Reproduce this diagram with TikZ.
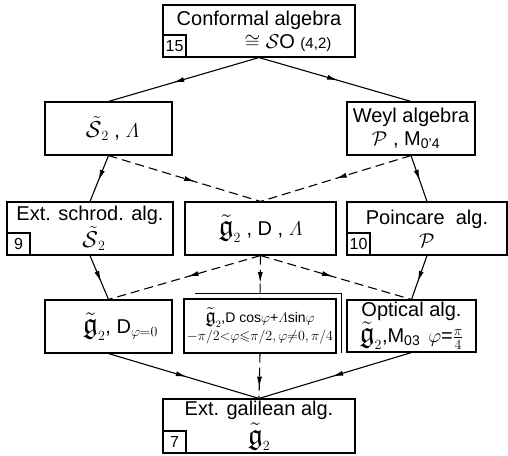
\documentclass[tikz,border=0pt]{standalone}
\usepackage{fix-cm}
\usepackage{amsmath, amssymb}
\usepackage{fontspec}
\setmainfont{Liberation Sans}
\usetikzlibrary{arrows.meta, decorations.markings}

\newcommand{\galg}{\mathord{\scalebox{1.5}{$\tilde{\mathfrak{g}}$}}}
\newcommand{\salg}{\mathord{\scalebox{1.15}{$\tilde{\mathcal{S}}$}}}

\tikzset{
    algbox/.style={draw, line width=1.1pt, inner sep=2pt, align=center, font=\fontsize{20}{23}\selectfont},
    numtag/.style={draw, line width=1.1pt, anchor=south west, minimum width=23pt, minimum height=22pt, inner sep=0pt, font=\fontsize{16}{16}\selectfont},
    conn/.style={line width=1.1pt, postaction={decorate}, decoration={markings, mark=at position #1 with {\arrow{Latex[length=11pt,width=5pt]}}}},
    conn/.default=0.55,
    dconn/.style={conn=#1, dash pattern=on 9pt off 5pt},
    dconn/.default=0.55
}

\begin{document}
\begin{tikzpicture}[x=1pt, y=-1pt]
    \useasboundingbox (0,0) rectangle (508,455);

    % Draw nodes
    \node[algbox, minimum width=192pt, minimum height=52pt] (conf) at (259,31) {Conformal algebra\\ \hspace*{58pt}$\cong\mathcal{S}$O {\fontsize{15}{15}\selectfont(4,2)}};
    \node[algbox, minimum width=127pt, minimum height=53pt] (s2l) at (108.5,128.5) {\hspace*{8pt}$\salg_2$ , $\varLambda$};
    \node[algbox, minimum width=128pt, minimum height=53pt] (weyl) at (411,128.5) {Weyl algebra\\ $\mathcal{P}$ , M$_{\text{0'4}}$\hspace*{10pt}};
    \node[algbox, minimum width=166pt, minimum height=53pt] (schrod) at (90,228.5) {Ext. schrod. alg.\\[1pt] \hspace*{8pt}$\salg_2$};
    \node[algbox, minimum width=151pt, minimum height=53pt] (gdl) at (260.5,228.5) {$\galg_2$ , D , $\varLambda$};
    \node[algbox, minimum width=160pt, minimum height=53pt] (poin) at (427,228.5) {Poincare\ \ alg.\\ $\mathcal{P}$};
    \node[algbox, minimum width=127pt, minimum height=53pt] (gd0) at (108.5,326.5) {\hspace*{24pt}$\galg_2$, D$_{\varphi=0}$};
    \node[algbox, minimum width=152pt, minimum height=54pt, inner sep=1pt, font=\fontsize{14}{18}\selectfont] (gmix) at (260,326) {$\galg_2$,D cos$\varphi$+$\varLambda$sin$\varphi$\\ $-\pi/2{<}\varphi{\leqslant}\pi/2,\varphi{\neq}0,\pi/4$};
    \node[algbox, minimum width=129pt, minimum height=52pt] (opt) at (411.5,326) {Optical alg.\\ $\galg_2$,M$_{\text{03}}$\hspace{8pt}$\varphi$=$\frac{\pi}{4}$};
    \node[algbox, minimum width=192pt, minimum height=54pt] (gal) at (259,426) {Ext. galilean alg.\\[2pt] $\galg_2$};

    % Number tags
    \node[numtag] (n15) at (conf.south west) {15};
    \node[numtag] (n9) at (schrod.south west) {9};
    \node[numtag] (n10) at (poin.south west) {10};
    \node[numtag] (n7) at (gal.south west) {7};

    % Second frame of the mixed box
    \draw[line width=1.1pt] ([xshift=12pt,yshift=5pt]gmix.north west) -| ([xshift=5pt,yshift=1pt]gmix.south east);

    % Draw connections
    \draw[conn=0.57] (conf.south) -- (s2l.north);
    \draw[conn=0.52] (conf.south) -- (weyl.north);
    \draw[conn] (s2l.south) -- (schrod.north);
    \draw[dconn=0.57] (s2l.south) -- (gdl.north);
    \draw[dconn=0.5] (weyl.south) -- (gdl.north);
    \draw[conn] (weyl.south) -- (poin.north);
    \draw[conn=0.6] (schrod.south) -- (gd0.north);
    \draw[dconn=0.48] (gdl.south) -- (gd0.north);
    \draw[dconn=0.64] (gdl.south) -- (gmix.north);
    \draw[dconn=0.48] (gdl.south) -- (opt.north);
    \draw[conn=0.6] (poin.south) -- (opt.north);
    \draw[conn=0.52] (gd0.south) -- (gal.north);
    \draw[dconn=0.76] (gmix.south) -- (gal.north);
    \draw[conn=0.52] (opt.south) -- (gal.north);
\end{tikzpicture}
\end{document}
